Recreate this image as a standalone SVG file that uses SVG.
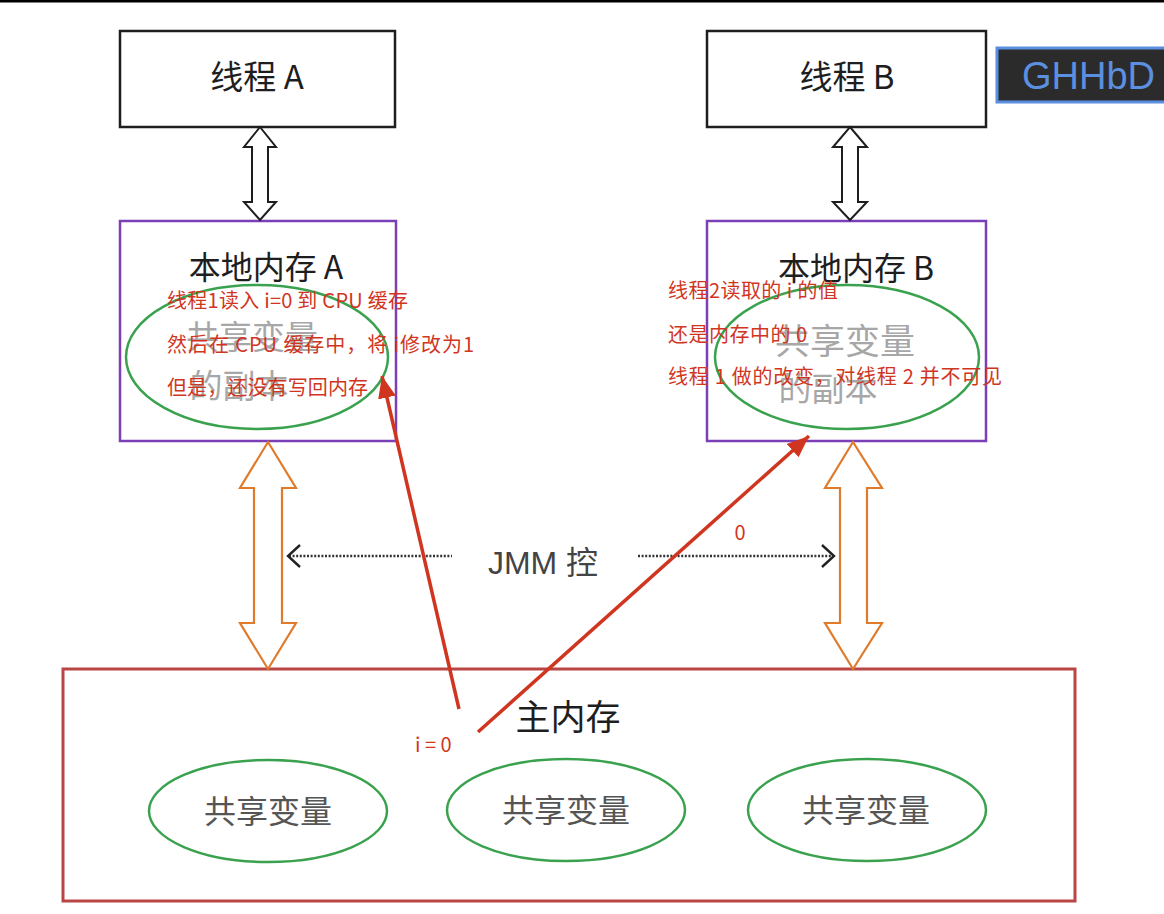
<svg xmlns="http://www.w3.org/2000/svg" width="1164" height="914" viewBox="0 0 1164 914">
<style>
.thread{fill:#fff;stroke:#1e1e1e;stroke-width:2.5}
.local{fill:#fff;stroke:#7b3fb8;stroke-width:2.5}
.main{fill:#fff;stroke:#b94545;stroke-width:3}
.green{fill:none;stroke:#3aa24f;stroke-width:2.5}
.blk{fill:#fff;stroke:#1e1e1e;stroke-width:2}
.org{fill:#fff;stroke:#e07b2c;stroke-width:2.2}
.lbl{font-family:"Noto Sans CJK SC","Liberation Sans",sans-serif;fill:#1e1e1e;text-anchor:middle}
.fade{font-family:"Noto Sans CJK SC","Liberation Sans",sans-serif;fill:#8a8a8a;text-anchor:middle;opacity:0.75}
.var{font-family:"Noto Sans CJK SC","Liberation Sans",sans-serif;fill:#555;text-anchor:middle}
.red{font-family:"Noto Sans CJK SC","Liberation Sans",sans-serif;fill:#d0361f;font-size:20px}
.redline{stroke:#d0361f;stroke-width:3.5;fill:none}
.dot{stroke:#333;stroke-width:2.4;stroke-dasharray:2 1.6;fill:none}
.chev{stroke:#222;stroke-width:2.4;fill:none}
</style>
<defs>
<marker id="rh" markerUnits="userSpaceOnUse" markerWidth="24" markerHeight="20" refX="22" refY="10" orient="auto">
<path d="M0,1 L22,10 L0,19 Z" fill="#d0361f"/>
</marker>
</defs>
<rect x="0" y="0" width="1164" height="914" fill="#fff"/>
<rect x="0" y="0" width="1164" height="2.5" fill="#000"/>

<g id="threadA">
<rect class="thread" x="120" y="31" width="275" height="96"/>
<text class="lbl" x="257" y="89" font-size="33">线程 A</text>
</g>
<g id="threadB">
<rect class="thread" x="707" y="31" width="279" height="96"/>
<text class="lbl" x="847" y="89" font-size="33">线程 B</text>
</g>

<g id="localA">
<rect class="local" x="120" y="221" width="276" height="220"/>
<text class="lbl" x="266" y="279" font-size="32">本地内存 A</text>
<ellipse class="green" cx="257" cy="357" rx="131" ry="72"/>
<text class="fade" x="252" y="349" font-size="33">共享变量</text>
<text class="fade" x="239" y="398" font-size="33">的副本</text>
</g>
<g id="localB">
<rect class="local" x="707" y="221" width="279" height="220"/>
<text class="lbl" x="856" y="280" font-size="32">本地内存 B</text>
<ellipse class="green" cx="847" cy="357" rx="132" ry="72"/>
<text class="fade" x="845" y="354" font-size="35">共享变量</text>
<text class="fade" x="828" y="401" font-size="33">的副本</text>
</g>

<g id="mainMemory">
<rect class="main" x="63" y="669" width="1012" height="232"/>
<text class="lbl" x="568" y="730" font-size="35">主内存</text>
</g>
<g id="var1">
<ellipse class="green" cx="268" cy="811" rx="119" ry="51"/>
<text class="var" x="268" y="823" font-size="32">共享变量</text>
</g>
<g id="var2">
<ellipse class="green" cx="566" cy="810" rx="119" ry="51"/>
<text class="var" x="566" y="822" font-size="32">共享变量</text>
</g>
<g id="var3">
<ellipse class="green" cx="867" cy="810" rx="119" ry="51"/>
<text class="var" x="866" y="822" font-size="32">共享变量</text>
</g>

<g id="badge">
<rect x="997" y="48" width="170" height="54" fill="#2b2b2b" stroke="#5a8ee0" stroke-width="3"/>
<text x="1022" y="89" font-family="Liberation Sans, Arial, sans-serif" font-size="38" fill="#5b8fe0">GHHbD</text>
</g>

<g id="connectors">
<path class="blk" d="M260,127 L276,147 L268,147 L268,202 L276,202 L260,220 L244,202 L252,202 L252,147 L244,147 Z"/>
<path class="blk" d="M850,127 L867,147 L858,147 L858,202 L867,202 L850,220 L833,202 L842,202 L842,147 L833,147 Z"/>
<path class="org" d="M268,442 L296,488 L282,488 L282,623 L296,623 L268,669 L240,623 L254,623 L254,488 L240,488 Z"/>
<path class="org" d="M853,442 L882,488 L867,488 L867,623 L882,623 L853,669 L825,623 L840,623 L840,488 L825,488 Z"/>
<line class="dot" x1="289" y1="556" x2="452" y2="556"/>
<polyline class="chev" points="300,545 288,556 300,567"/>
<line class="dot" x1="638" y1="556" x2="834" y2="556"/>
<polyline class="chev" points="822,545 834,556 822,567"/>
<text x="543" y="574" font-family="'Liberation Sans','Noto Sans CJK SC',sans-serif" font-size="32" fill="#444" text-anchor="middle">JMM 控</text>
<line class="redline" x1="459" y1="709" x2="382" y2="376" marker-end="url(#rh)"/>
<line class="redline" x1="478" y1="732" x2="809" y2="436" marker-end="url(#rh)"/>
</g>

<g id="notes">
<text class="red" x="167" y="308" textLength="241" lengthAdjust="spacing">线程1读入 i=0 到 CPU 缓存</text>
<text class="red" x="167" y="352" textLength="307" lengthAdjust="spacing">然后在 CPU 缓存中，将 i修改为1</text>
<text class="red" x="167" y="395" textLength="201" lengthAdjust="spacing">但是，还没有写回内存</text>
<text class="red" x="668" y="298" textLength="170" lengthAdjust="spacing">线程2读取的 i 的值</text>
<text class="red" x="668" y="342" textLength="139" lengthAdjust="spacing">还是内存中的 0</text>
<text class="red" x="668" y="384" textLength="334" lengthAdjust="spacing">线程 1  做的改变，对线程 2 并不可见</text>
<text class="red" x="740" y="540" text-anchor="middle" font-size="18">0</text>
<text class="red" x="415" y="752">i = 0</text>
</g>
</svg>
